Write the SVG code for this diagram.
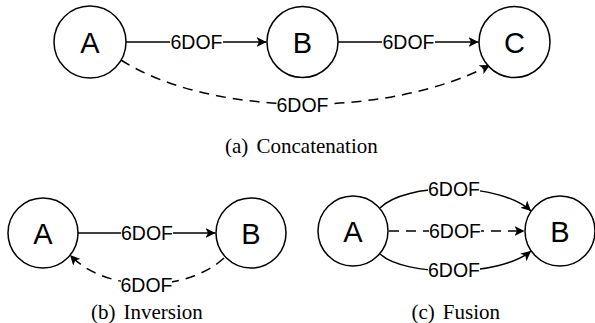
<svg xmlns="http://www.w3.org/2000/svg" width="595" height="323" viewBox="0 0 595 323">
<style>
.node{fill:#fff;stroke:#000;stroke-width:1.5}
.nl{font-family:"Liberation Sans",Arial,sans-serif;font-size:29px;text-anchor:middle;fill:#000}
.edge{fill:none;stroke:#000;stroke-width:1.5}
.dash{stroke-dasharray:10 7}
.arr{marker-end:url(#ah)}
.lbg{fill:#fff}
.lt{font-family:"Liberation Sans",Arial,sans-serif;font-size:19.5px;text-anchor:middle;fill:#000}
.cap{font-family:"Liberation Serif","Times New Roman",serif;font-size:21px;fill:#000}
</style>
<defs>
<marker id="ah" viewBox="0 0 10 10" refX="10" refY="5" markerWidth="10" markerHeight="10" markerUnits="userSpaceOnUse" orient="auto">
<path d="M0,0 L10,5 L0,10 L2.5,5 z" fill="#000"/>
</marker>
</defs>

<g id="connectors">
<!-- (a) -->
<line class="edge arr" x1="126" y1="42" x2="266.5" y2="42"/>
<line class="edge arr" x1="338" y1="42" x2="478.5" y2="42"/>
<path class="edge dash arr" d="M121,60 C212,118 390,118 490,65"/>
<!-- (b) -->
<line class="edge arr" x1="78" y1="233" x2="215.5" y2="233"/>
<path class="edge dash arr" d="M224,258 C186,293 106,293 70,255"/>
<!-- (c) -->
<path class="edge arr" d="M380,208 C405,182 500,182 531,211"/>
<line class="edge dash arr" x1="389" y1="231" x2="524.5" y2="231"/>
<path class="edge arr" d="M380,254 C405,277 500,277 531,251"/>

<g id="labels">
<rect class="lbg" x="170" y="34" width="53" height="16"/>
<text class="lt" x="196.5" y="49">6DOF</text>
<rect class="lbg" x="382" y="34" width="53" height="16"/>
<text class="lt" x="408.5" y="49">6DOF</text>
<rect class="lbg" x="277" y="97" width="51" height="16"/>
<text class="lt" x="302.5" y="112">6DOF</text>
<rect class="lbg" x="121" y="225" width="52" height="16"/>
<text class="lt" x="147" y="240">6DOF</text>
<rect class="lbg" x="121" y="277" width="51" height="16"/>
<text class="lt" x="146.5" y="291.5">6DOF</text>
<rect class="lbg" x="428" y="180" width="52" height="16"/>
<text class="lt" x="454" y="195.5">6DOF</text>
<rect class="lbg" x="429" y="223" width="52" height="16"/>
<text class="lt" x="455" y="238">6DOF</text>
<rect class="lbg" x="428" y="262" width="52" height="16"/>
<text class="lt" x="454" y="277">6DOF</text>
</g>
</g>

<g id="a-A"><circle class="node" cx="90" cy="42" r="36"/><text class="nl" x="90" y="52.5">A</text></g>
<g id="a-B"><circle class="node" cx="302.5" cy="42" r="35.5"/><text class="nl" x="302.5" y="52.5">B</text></g>
<g id="a-C"><circle class="node" cx="514.5" cy="42" r="35.5"/><text class="nl" x="514.5" y="52.5">C</text></g>

<g id="b-A"><circle class="node" cx="43" cy="233" r="35"/><text class="nl" x="43" y="243.5">A</text></g>
<g id="b-B"><circle class="node" cx="251" cy="233" r="35"/><text class="nl" x="251" y="243.5">B</text></g>

<g id="c-A"><circle class="node" cx="353" cy="231" r="35"/><text class="nl" x="353" y="241.5">A</text></g>
<g id="c-B"><circle class="node" cx="560" cy="231" r="35"/><text class="nl" x="560" y="241.5">B</text></g>

<g id="captions">
<text class="cap" y="152.5"><tspan x="225">(a)</tspan><tspan x="256.5">Concatenation</tspan></text>
<text class="cap" y="319"><tspan x="91">(b)</tspan><tspan x="123.5">Inversion</tspan></text>
<text class="cap" y="319"><tspan x="411.5">(c)</tspan><tspan x="442.8">Fusion</tspan></text>
</g>
</svg>
